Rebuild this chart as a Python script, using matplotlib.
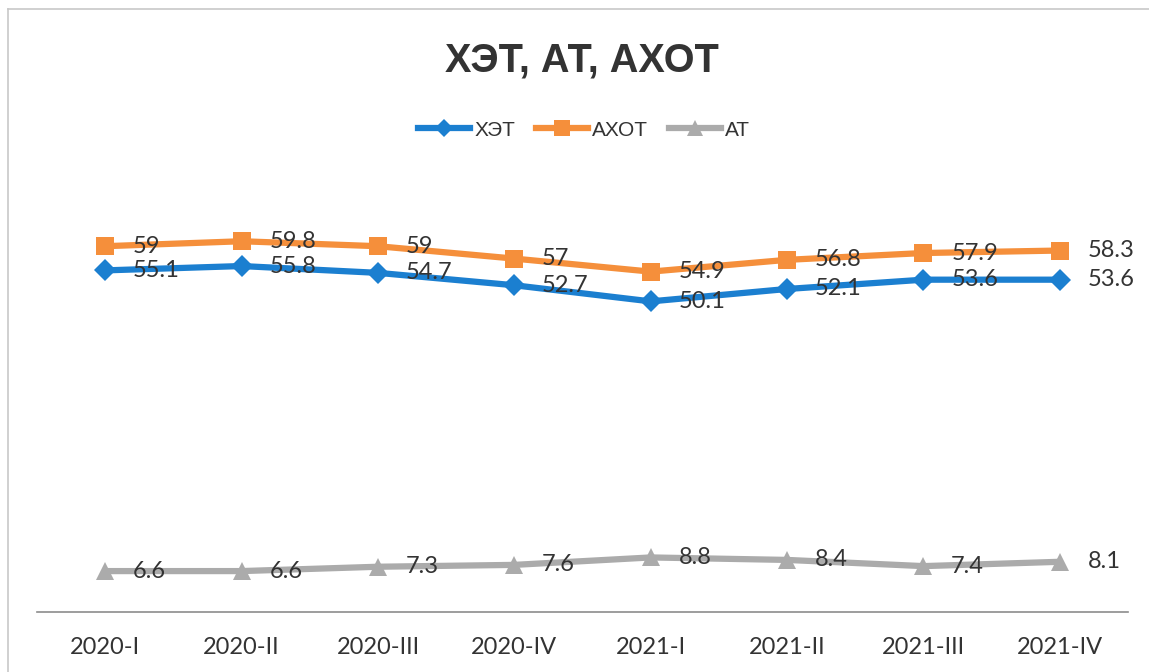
import matplotlib.pyplot as plt
from matplotlib.lines import Line2D

quarters = ['2020-I', '2020-II', '2020-III', '2020-IV',
            '2021-I', '2021-II', '2021-III', '2021-IV']
het = [55.1, 55.8, 54.7, 52.7, 50.1, 52.1, 53.6, 53.6]
ahot = [59, 59.8, 59, 57, 54.9, 56.8, 57.9, 58.3]
at = [6.6, 6.6, 7.3, 7.6, 8.8, 8.4, 7.4, 8.1]

COLORS = {
    'het': '#1b7fd0',
    'ahot': '#f58f3b',
    'at': '#ababab',
}
TEXT = '#333333'
NUM_FONT = ['Lato', 'DejaVu Sans']
CYR_FONT = ['Liberation Sans', 'DejaVu Sans']

fig = plt.figure(figsize=(11.49, 6.72), dpi=100)
fig.patch.set_facecolor('white')

# chart frame (left and top edges only, the rest runs off the page)
fig.add_artist(Line2D([8 / 1149, 8 / 1149], [0, 1 - 9 / 672], transform=fig.transFigure,
                      color='#c8c8c8', lw=1.2))
fig.add_artist(Line2D([8 / 1149, 1], [1 - 9 / 672, 1 - 9 / 672], transform=fig.transFigure,
                      color='#c8c8c8', lw=1.2))

ax = fig.add_axes([37 / 1149, 1 - 612 / 672, (1128 - 37) / 1149, (612 - 178) / 672])
x = range(len(quarters))

series = [
    ('ХЭТ', het, COLORS['het'], 'D', 11),
    ('АХОТ', ahot, COLORS['ahot'], 's', 13),
    ('АТ', at, COLORS['at'], '^', 13),
]
for name, vals, color, marker, ms in series:
    ax.plot(x, vals, color=color, lw=4.5, marker=marker, markersize=ms,
            markeredgewidth=0, label=name, solid_capstyle='round', zorder=3)
    for xi, v in zip(x, vals):
        ax.annotate(f'{v:g}', (xi, v), xytext=(20, 0), textcoords='offset points',
                    ha='left', va='center', fontsize=17, color=TEXT,
                    family=NUM_FONT, zorder=4)

ax.set_xlim(-0.5, len(quarters) - 0.5)
ax.set_ylim(0, 70)
ax.set_xticks(list(x))
ax.set_xticklabels(quarters, fontsize=17, color=TEXT, family=NUM_FONT)
ax.tick_params(axis='x', length=0, pad=18)
ax.set_yticks([])
for side in ['top', 'right', 'left']:
    ax.spines[side].set_visible(False)
ax.spines['bottom'].set_color('#8c8c8c')
ax.spines['bottom'].set_linewidth(1.2)

fig.text(582 / 1149, 1 - 60 / 672, 'ХЭТ, АТ, АХОТ', ha='center', va='center',
         fontsize=28.5, fontweight='bold', color='#333333', family=CYR_FONT)

leg_handles = [
    Line2D([], [], color=c, lw=4.5, marker=m, markersize=ms * 0.85, markeredgewidth=0)
    for _, _, c, m, ms in series
]
fig.legend(leg_handles, [s[0] for s in series], loc='center',
           bbox_to_anchor=(584 / 1149, 1 - 130 / 672), ncol=3,
           frameon=False, handlelength=2.5, handletextpad=0.2, columnspacing=1.0,
           prop={'family': CYR_FONT, 'size': 15}, labelcolor=TEXT)

fig.savefig('out.png', dpi=100, facecolor='white')
